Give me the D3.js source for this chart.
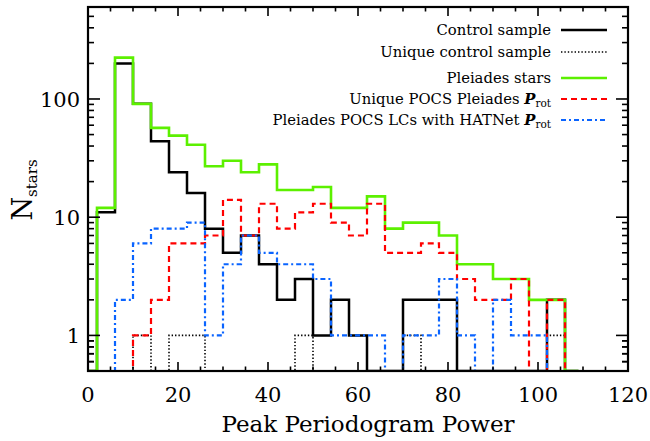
<!DOCTYPE html>
<html>
<head>
<meta charset="utf-8">
<script src="https://cdn.jsdelivr.net/npm/d3@7"></script>
<style>
  body { margin: 0; background: #fff; }
  svg text { font-family: "DejaVu Serif", "Liberation Serif", serif; fill: #000; }
</style>
</head>
<body>
<script>
// histogram bins: width 4, from 2 to 106
const binStart = 2
const binWidth = 4
const binCount = 26

// counts per bin
const controlSample = [11, 200, 91, 44, 24, 16, 8, 5, 7, 4, 2, 3, 1, 2, 1, 0, 0, 2, 2, 2, 0, 0, 0, 0, 0, 2]
const uniqueControl = [0, 0, 1, 0, 1, 1, 0, 0, 0, 0, 0, 1, 0, 0, 0, 0, 0, 1, 0, 0, 0, 0, 0, 0, 0, 1]
const pleiadesStars = [12, 224, 91, 57, 49, 41, 27, 30, 24, 28, 17, 17, 18, 12, 12, 15, 8, 9, 9, 7, 4, 4, 3, 3, 2, 2]
const uniquePocs = [0, 0, 1, 2, 6, 6, 7, 14, 7, 13, 8, 11, 13, 9, 7, 13, 5, 5, 6, 5, 3, 2, 2, 3, 0, 2]
const pocsHatnet = [0, 2, 6, 8, 8, 9, 1, 4, 7, 5, 4, 4, 3, 1, 1, 1, 0, 1, 1, 3, 1, 0, 2, 1, 1, 0]

const xTicks = [0, 20, 40, 60, 80, 100, 120]
const yTicks = [1, 10, 100]

const w = 650
const h = 441
const margin = {left: 88, right: 22, top: 7, bottom: 70}

const svg = d3.select("body").append("svg")
  .attr("width", w)
  .attr("height", h)

const x = d3.scaleLinear().domain([0, 120]).range([margin.left, w - margin.right])
const y = d3.scaleLog().domain([0.5, 600]).range([h - margin.bottom, margin.top])

svg.append("clipPath").attr("id", "plotclip")
  .append("rect")
  .attr("x", x(0)).attr("y", y(600))
  .attr("width", x(120) - x(0)).attr("height", y(0.5) - y(600))

// step outline of a histogram, zeros sit on the bottom of the plot
function stepPath(counts) {
  let pts = [[0, 0.5], [binStart, 0.5]]
  counts.forEach(function(c, i) {
    let v = c > 0 ? c : 0.5
    let lo = binStart + i * binWidth
    pts.push([lo, v])
    pts.push([lo + binWidth, v])
  })
  let end = binStart + binCount * binWidth
  pts.push([end, 0.5])
  pts.push([end + 3, 0.5])
  return d3.line().x(d => x(d[0])).y(d => y(d[1]))(pts)
}

const series = [
  {name: "Control sample", data: controlSample, color: "#000", width: 2.5, dash: null},
  {name: "Unique control sample", data: uniqueControl, color: "#000", width: 1.6, dash: "1.4,2"},
  {name: "Pleiades stars", data: pleiadesStars, color: "#5cf000", width: 2.6, dash: null},
  {name: "Unique POCS Pleiades", data: uniquePocs, color: "#ff0000", width: 2.2, dash: "6,4", prot: true},
  {name: "Pleiades POCS LCs with HATNet", data: pocsHatnet, color: "#0a64ff", width: 2.2, dash: "5,3,2,3", prot: true}
]

const plot = svg.append("g").attr("clip-path", "url(#plotclip)")
series.forEach(function(s) {
  plot.append("path")
    .attr("d", stepPath(s.data))
    .attr("fill", "none")
    .attr("stroke", s.color)
    .attr("stroke-width", s.width)
    .attr("stroke-dasharray", s.dash)
})

// axes, ticks on all four sides pointing inward
const axisG = svg.append("g").attr("stroke", "#000")
const minorX = d3.range(0, 121, 5).filter(v => v % 20 != 0)
const minorY = []
;[1, 10, 100].forEach(function(d) {
  for (let k = 2; k <= 9; k++) minorY.push(d * k / 10)
})
minorY.push(0.5, 0.6, 0.7, 0.8, 0.9)
;[200, 300, 400, 500].forEach(v => minorY.push(v))
const minorYs = minorY.filter(v => v >= 0.5 && v <= 600 && v != 1 && v != 10 && v != 100)

function xTick(v, len) {
  axisG.append("line").attr("x1", x(v)).attr("x2", x(v))
    .attr("y1", y(0.5)).attr("y2", y(0.5) - len).attr("stroke-width", 1.6)
  axisG.append("line").attr("x1", x(v)).attr("x2", x(v))
    .attr("y1", y(600)).attr("y2", y(600) + len).attr("stroke-width", 1.6)
}
function yTick(v, len) {
  axisG.append("line").attr("x1", x(0)).attr("x2", x(0) + len)
    .attr("y1", y(v)).attr("y2", y(v)).attr("stroke-width", 1.6)
  axisG.append("line").attr("x1", x(120)).attr("x2", x(120) - len)
    .attr("y1", y(v)).attr("y2", y(v)).attr("stroke-width", 1.6)
}
xTicks.forEach(v => xTick(v, 9))
minorX.forEach(v => xTick(v, 4.5))
yTicks.forEach(v => yTick(v, 12))
minorYs.forEach(v => yTick(v, 6))

axisG.append("rect")
  .attr("x", x(0)).attr("y", y(600))
  .attr("width", x(120) - x(0)).attr("height", y(0.5) - y(600))
  .attr("fill", "none").attr("stroke-width", 2.2)

// tick labels
svg.selectAll(".xlab").data(xTicks).enter().append("text")
  .attr("x", d => x(d)).attr("y", y(0.5) + 31)
  .attr("text-anchor", "middle")
  .style("font-size", "21px")
  .text(d => d)

svg.selectAll(".ylab").data(yTicks).enter().append("text")
  .attr("x", x(0) - 8).attr("y", d => y(d) + 8)
  .attr("text-anchor", "end")
  .style("font-size", "21px")
  .text(d => d)

// axis titles
svg.append("text")
  .attr("x", (x(0) + x(120)) / 2 + 10).attr("y", 432)
  .attr("text-anchor", "middle")
  .style("font-size", "23px")
  .text("Peak Periodogram Power")

const ytitle = svg.append("text")
  .attr("transform", "translate(32," + 190 + ") rotate(-90)")
  .attr("text-anchor", "middle")
  .style("font-size", "27px")
ytitle.append("tspan").text("N")
ytitle.append("tspan").attr("dy", 5).style("font-size", "15px").text("stars")

// legend
const legendRows = [30, 52, 78, 99, 120]
series.forEach(function(s, i) {
  let ly = legendRows[i]
  let t = svg.append("text")
    .attr("x", 551).attr("y", ly + 5)
    .attr("text-anchor", "end")
    .style("font-size", "14.8px")
  t.append("tspan").text(s.name)
  if (s.prot) {
    t.append("tspan").text(" ")
    t.append("tspan").style("font-weight", "bold").style("font-style", "italic").text("P")
    t.append("tspan").attr("dy", 3).style("font-size", "10.5px").text("rot")
  }
  svg.append("line")
    .attr("x1", 561).attr("x2", 607)
    .attr("y1", ly).attr("y2", ly)
    .attr("stroke", s.color)
    .attr("stroke-width", s.width)
    .attr("stroke-dasharray", s.dash)
})
</script>
</body>
</html>
